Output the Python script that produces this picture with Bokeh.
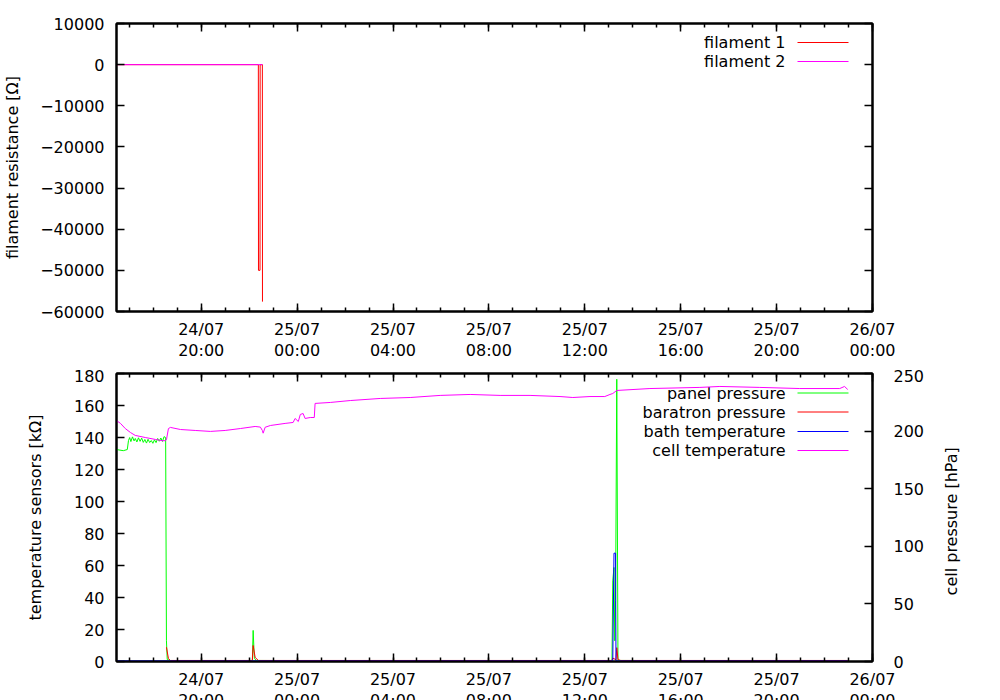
import math
from datetime import datetime
import pandas as pd
from bokeh.plotting import figure
from bokeh.layouts import column
from bokeh.models import (Range1d, LinearAxis, FixedTicker, SingleIntervalTicker,
                          DatetimeTickFormatter, CustomJSTickFormatter, Label)
from bokeh.embed import file_html
from bokeh.resources import INLINE

YEAR = 2014

# ---------------- data ----------------
x_start = "24/07 16:28"
x_end = "26/07 00:00"
major_ticks = ["24/07 20:00", "25/07 00:00", "25/07 04:00", "25/07 08:00",
               "25/07 12:00", "25/07 16:00", "25/07 20:00", "26/07 00:00"]

# top panel: filament resistance [Ohm]
fil1_t = ["24/07 16:28:00", "24/07 22:23:00", "24/07 22:23:20", "24/07 22:27:10",
          "24/07 22:27:30", "24/07 22:33:00", "24/07 22:33:20"]
fil1_v = [0, 0, -50000, -50000, 0, 0, -57600]
fil2_t = ["24/07 16:28:00", "24/07 22:33:20"]
fil2_v = [0, 0]

# bottom panel
panel_t = ["24/07 16:28", "24/07 16:45", "24/07 16:55", "24/07 16:58", "24/07 17:01",
           "24/07 17:04", "24/07 17:08", "24/07 17:12", "24/07 17:15", "24/07 17:19",
           "24/07 17:23", "24/07 17:27", "24/07 17:31", "24/07 17:35", "24/07 17:39",
           "24/07 17:43", "24/07 17:47", "24/07 17:51", "24/07 17:55", "24/07 17:59",
           "24/07 18:03", "24/07 18:07", "24/07 18:11", "24/07 18:15", "24/07 18:19",
           "24/07 18:23", "24/07 18:27", "24/07 18:31", "24/07 18:33",
           "24/07 18:35", "24/07 18:43", "24/07 20:00", "24/07 22:08", "24/07 22:10",
           "24/07 22:13", "24/07 22:18", "25/07 04:00", "25/07 08:00", "25/07 13:08",
           "25/07 13:10", "25/07 13:13", "25/07 13:15", "25/07 13:17", "25/07 13:20",
           "25/07 13:23", "25/07 16:00", "25/07 20:00", "25/07 22:58"]
panel_v = [184.0, 183.0, 184.0, 191.8, 194.4,
           190.9, 195.0, 191.5, 193.6, 190.6,
           194.2, 191.1, 193.9, 190.2, 192.7,
           189.6, 192.9, 190.1, 191.8, 189.4,
           192.4, 190.0, 193.6, 191.2, 194.0,
           191.0, 195.2, 194.4, 18.0,
           1.7, 0.8, 0.6, 0.6, 27.0,
           2.6, 0.9, 0.6, 0.7, 0.7,
           70.0, 81.6, 18.0, 53.0, 245.0,
           0.9, 0.8, 0.8, 0.8]

baratron_t = ["24/07 18:33", "24/07 18:38", "24/07 18:43", "24/07 22:08", "24/07 22:10",
              "24/07 22:15", "24/07 22:23", "25/07 13:08", "25/07 13:10", "25/07 13:18",
              "25/07 13:20", "25/07 13:23", "25/07 13:30", "25/07 22:58"]
baratron_v = [12.4, 2.6, 0.9, 0.9, 13.9,
              3.5, 0.9, 0.9, 3.0, 1.5,
              12.0, 1.7, 0.9, 0.9]

bath_t = ["24/07 16:28", "25/07 13:10", "25/07 13:13", "25/07 13:17", "25/07 13:18", "25/07 22:58"]
bath_v = [0.4, 0.4, 67.7, 67.7, 0.4, 0.4]

cell_t = ["24/07 16:28", "24/07 16:38", "24/07 16:50", "24/07 17:03", "24/07 17:15",
          "24/07 17:40", "24/07 18:05", "24/07 18:23", "24/07 18:30", "24/07 18:33",
          "24/07 18:38", "24/07 18:43", "24/07 19:08", "24/07 19:45", "24/07 20:23",
          "24/07 21:00", "24/07 21:38", "24/07 22:15", "24/07 22:28", "24/07 22:33",
          "24/07 22:35", "24/07 22:40", "24/07 22:53", "24/07 23:30", "24/07 23:50",
          "24/07 23:55", "25/07 00:03", "25/07 00:08", "25/07 00:15", "25/07 00:20",
          "25/07 00:33", "25/07 00:43", "25/07 00:45", "25/07 01:23", "25/07 02:13",
          "25/07 03:28", "25/07 04:43", "25/07 05:58", "25/07 07:13", "25/07 08:28",
          "25/07 09:43", "25/07 10:58", "25/07 11:30", "25/07 12:13", "25/07 12:50",
          "25/07 13:03", "25/07 13:10", "25/07 13:20", "25/07 14:43", "25/07 16:48",
          "25/07 17:38", "25/07 19:18", "25/07 20:58", "25/07 22:38", "25/07 22:50",
          "25/07 22:58"]
cell_v = [150.6, 148.8, 145.6, 143.1, 141.3,
          140.0, 138.8, 138.0, 138.0, 138.6,
          145.6, 146.3, 145.0, 144.4, 143.8,
          144.4, 145.6, 146.9, 146.5, 144.4,
          142.7, 146.4, 147.5, 148.8, 149.4,
          151.9, 150.0, 154.4, 155.0, 151.9,
          152.5, 152.5, 161.3, 161.9, 163.1,
          164.4, 165.0, 166.3, 166.9, 166.3,
          166.3, 165.6, 165.0, 165.6, 165.6,
          166.9, 167.5, 169.4, 170.6, 171.3,
          171.9, 171.3, 170.6, 170.6, 171.9,
          170.0]


# ---------------- helpers ----------------
def ts(s):
    fmt = "%d/%m %H:%M:%S" if s.count(":") == 2 else "%d/%m %H:%M"
    return datetime.strptime(s, fmt).replace(year=YEAR)


def ms(d):
    return (d - datetime(1970, 1, 1)).total_seconds() * 1000.0


FONT = "DejaVu Sans"
FS = "16px"
FRAME_W, FRAME_H = 756, 288

x0, x1 = ts(x_start), ts(x_end)
major_ms = [ms(ts(s)) for s in major_ticks]
minor_ms = [ms(d) for d in pd.date_range(ts("24/07 17:00"), x1, freq="1h").to_pydatetime()]

x_range = Range1d(x0, x1)

minus_fmt = CustomJSTickFormatter(code="return tick < 0 ? '\\u2212' + Math.abs(tick) : String(tick);")
blank_fmt = CustomJSTickFormatter(code="return '';")
date_fmt = "%d/%m\n%H:%M"


def style_axis(ax, labels=True):
    ax.axis_line_color = "black"
    ax.axis_line_width = 2
    ax.major_tick_line_color = "black"
    ax.minor_tick_line_color = "black"
    ax.major_tick_line_width = 1.5
    ax.minor_tick_line_width = 1.5
    ax.major_tick_in = 8
    ax.major_tick_out = 0
    ax.minor_tick_in = 4
    ax.minor_tick_out = 0
    ax.major_label_text_font = FONT
    ax.major_label_text_color = "black"
    ax.axis_label_text_font = FONT
    ax.axis_label_text_font_size = FS
    ax.axis_label_text_font_style = "normal"
    ax.axis_label_text_color = "black"
    if labels:
        ax.major_label_text_font_size = FS
    else:
        ax.formatter = blank_fmt
        ax.major_label_text_font_size = "1px"
        ax.major_label_standoff = 0


def x_axes(p):
    xa = p.xaxis[0]
    xa.ticker = FixedTicker(ticks=major_ms, minor_ticks=minor_ms)
    xa.formatter = DatetimeTickFormatter(hours=date_fmt, hourmin=date_fmt, days=date_fmt,
                                         minutes=date_fmt, minsec=date_fmt, months=date_fmt,
                                         years=date_fmt, seconds=date_fmt)
    style_axis(xa)
    xa.major_label_standoff = 8
    xa.major_label_text_line_height = 1.13
    top = LinearAxis(ticker=FixedTicker(ticks=major_ms, minor_ticks=minor_ms))
    style_axis(top, labels=False)
    p.add_layout(top, "above")


def legend(p, rows, text_x, line_x0, line_x1):
    # key lines drawn on a frame-pixel range so they sit beside the texts
    for text, color, y in rows:
        p.line([line_x0, line_x1], [y, y], color=color, line_width=1,
               x_range_name="legx", y_range_name="legy")
        p.add_layout(Label(x=text_x, y=y, x_units="screen", y_units="screen", text=text,
                           text_align="right", text_baseline="middle", text_font=FONT,
                           text_font_size=FS, text_color="black", level="underlay"))


def base_fig(height, y_range, border_top, border_bottom):
    p = figure(width=992, height=height, x_axis_type="datetime", x_range=x_range, y_range=y_range,
               output_backend="svg", toolbar_location=None,
               min_border_left=116, min_border_right=120, min_border_top=border_top,
               min_border_bottom=border_bottom)
    p.grid.visible = False
    p.outline_line_color = "black"
    p.outline_line_width = 2
    p.background_fill_color = "white"
    p.border_fill_color = "white"
    p.extra_x_ranges = {"legx": Range1d(0, FRAME_W)}
    p.extra_y_ranges = {"legy": Range1d(0, FRAME_H)}
    return p


# ---------------- top panel ----------------
p1 = base_fig(23 + FRAME_H + 58, Range1d(-60000, 10000), 23, 58)
legend(p1, [("filament 1", "#ff0000", 269), ("filament 2", "#ff00ff", 250)], 669, 681, 732)
p1.line([ts(s) for s in fil1_t], fil1_v, color="#ff0000", line_width=1)
p1.line([ts(s) for s in fil2_t], fil2_v, color="#ff00ff", line_width=1)
ya = p1.yaxis[0]
ya.ticker = SingleIntervalTicker(interval=10000, num_minor_ticks=0)
ya.formatter = minus_fmt
ya.axis_label = "filament resistance [Ω]"
style_axis(ya)
ya.major_label_standoff = 12
ya.axis_label_standoff = 15
r1 = LinearAxis(ticker=SingleIntervalTicker(interval=10000, num_minor_ticks=0))
style_axis(r1, labels=False)
p1.add_layout(r1, "right")
x_axes(p1)

# ---------------- bottom panel ----------------
p2 = base_fig(4 + FRAME_H + 58, Range1d(0, 180), 4, 58)
p2.extra_y_ranges["press"] = Range1d(0, 250)
legend(p2, [("panel pressure", "#00ff00", 268.5), ("baratron pressure", "#ff0000", 249.5),
            ("bath temperature", "#0000ff", 230), ("cell temperature", "#ff00ff", 211)],
       669, 681, 732)
p2.line([ts(s) for s in panel_t], panel_v, color="#00ff00", line_width=1, y_range_name="press")
p2.line([ts(s) for s in baratron_t], baratron_v, color="#ff0000", line_width=1, y_range_name="press")
p2.line([ts(s) for s in bath_t], bath_v, color="#0000ff", line_width=1)
p2.line([ts(s) for s in cell_t], cell_v, color="#ff00ff", line_width=1)
ya2 = p2.yaxis[0]
ya2.ticker = SingleIntervalTicker(interval=20, num_minor_ticks=0)
ya2.axis_label = "temperature sensors [kΩ]"
style_axis(ya2)
ya2.major_label_standoff = 12
ya2.axis_label_standoff = 26
# leading no-break spaces keep the upward-reading label centred on the axis
r2 = LinearAxis(y_range_name="press", ticker=SingleIntervalTicker(interval=50, num_minor_ticks=0),
                axis_label="\u00a0" * 13 + "cell pressure [hPa]")
style_axis(r2)
r2.major_label_standoff = 21
r2.axis_label_standoff = 24
r2.axis_label_orientation = math.pi / 2
r2.axis_label_align = "start"
p2.add_layout(r2, "right")
x_axes(p2)

layout = column(p1, p2, spacing=0)
open("out.html", "w").write(file_html(layout, INLINE))
